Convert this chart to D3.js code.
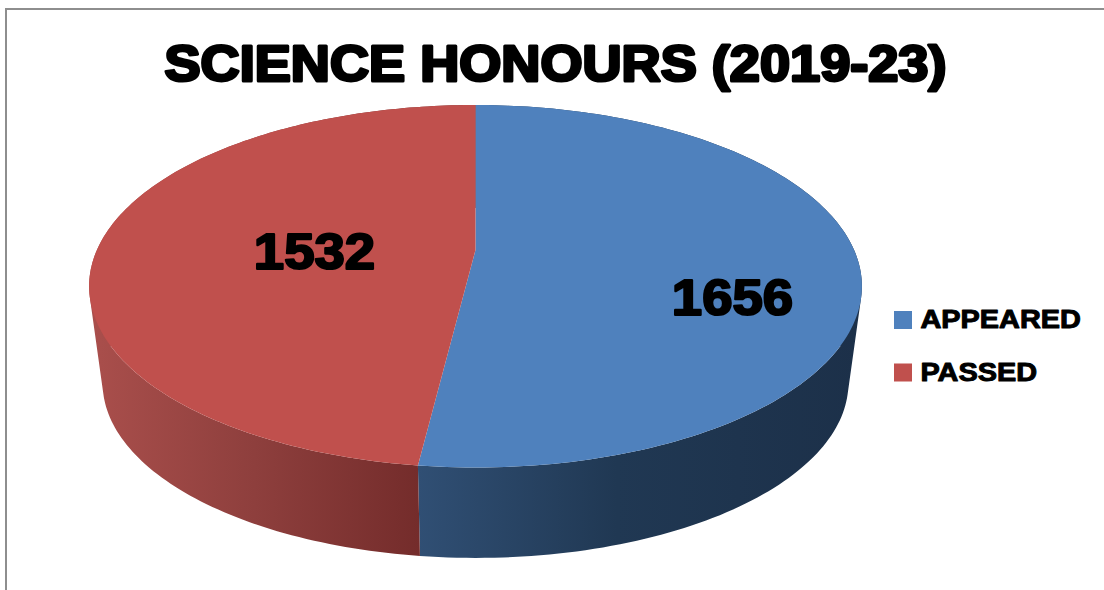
<!DOCTYPE html>
<html>
<head>
<meta charset="utf-8">
<script src="https://cdn.jsdelivr.net/npm/d3@7"></script>
<style>
  html, body { margin: 0; padding: 0; background: #fff; }
  svg { display: block; }
  text { font-family: "Liberation Sans", Arial, sans-serif; font-weight: bold; fill: #000; stroke: #000; stroke-linejoin: round; }
</style>
</head>
<body>
<svg id="chart" width="1104" height="590"></svg>
<script>
const categories = ['APPEARED', 'PASSED'];
const values = [1656, 1532];
const colors = ['#4f81bd', '#c0504d'];
const titleText = 'SCIENCE HONOURS (2019-23)';

const svg = d3.select('#chart');
const defs = svg.append('defs');

// frame, only top and left are in the picture
svg.append('line').attr('x1', 5).attr('y1', 9).attr('x2', 1104).attr('y2', 9)
  .attr('stroke', '#8e8e8e').attr('stroke-width', 2);
svg.append('line').attr('x1', 6).attr('y1', 8).attr('x2', 6).attr('y2', 590)
  .attr('stroke', '#8e8e8e').attr('stroke-width', 2);

// disk in perspective: far edge is foreshortened, so the pie centre sits above the ellipse centre
const cx = 475.5, cy = 250, a = 378.6, b = 174, k = 0.2;
const project = (t) => {
  const w = 1 + k * Math.cos(t);
  return [cx + a * Math.sin(t) / w, cy - b * Math.cos(t) / w];
};
// bottom rim is the same outline pulled towards a far vanishing point
const shrink = 0.965, vanishY = 3051;
const lower = (p) => [cx + shrink * (p[0] - cx), vanishY + shrink * (p[1] - vanishY)];

const pie = d3.pie().sort(null);
const slices = pie(values);
const rimAngles = (s) => d3.range(0, 161).map(i => s.startAngle + (s.endAngle - s.startAngle) * i / 160);
const line = d3.line();

// side walls first, one path of small quads so the silhouette keeps its straight sides
const wallStops = [
  [['0', '#304f74'], ['0.45', '#203853'], ['1', '#1c3049']],
  [['0', '#aa4f4c'], ['0.5', '#8e3f3d'], ['1', '#742c2b']]
];
const wallRange = [[418, 860], [89, 420]];
slices.forEach((s, i) => {
  const id = 'wall' + i;
  const g = defs.append('linearGradient').attr('id', id)
    .attr('gradientUnits', 'userSpaceOnUse')
    .attr('x1', wallRange[i][0]).attr('x2', wallRange[i][1])
    .attr('y1', 0).attr('y2', 0);
  wallStops[i].forEach(st => g.append('stop').attr('offset', st[0]).attr('stop-color', st[1]));
  const rim = rimAngles(s).map(project);
  // same winding for every quad, otherwise front and back quads cancel out when they overlap
  const d = rim.slice(1).map((p, j) => {
    const quad = [rim[j], p, lower(p), lower(rim[j])];
    return line(d3.polygonArea(quad) < 0 ? quad.reverse() : quad) + 'Z';
  }).join('');
  svg.append('path').attr('d', d).attr('fill', `url(#${id})`);
});

// top faces
slices.forEach((s, i) => {
  const pts = [[cx, cy]].concat(rimAngles(s).map(project));
  svg.append('path').attr('d', line(pts) + 'Z').attr('fill', colors[i]);
});

// Arial Black is not installed: widen the bold face to its width
const widen = (sel, factor) => sel.attr('textLength', sel.node().getComputedTextLength() * factor)
  .attr('lengthAdjust', 'spacingAndGlyphs');

// title
svg.append('text').attr('x', 555.5).attr('y', 81).attr('text-anchor', 'middle')
  .attr('font-size', 50).attr('stroke-width', 3)
  .attr('textLength', 782).attr('lengthAdjust', 'spacingAndGlyphs')
  .text(titleText);

// data labels
const labelPos = [[732.5, 315], [314.5, 269]];
values.forEach((v, i) => {
  svg.append('text').attr('x', labelPos[i][0]).attr('y', labelPos[i][1]).attr('text-anchor', 'middle')
    .attr('font-size', 50).attr('stroke-width', 2.2)
    .text(v)
    .call(widen, 1.09);
});

// legend
const legendY = d3.scalePoint().domain(categories).range([320, 372.5]);
categories.forEach((c, i) => {
  svg.append('rect').attr('x', 894).attr('y', legendY(c) - 9).attr('width', 18).attr('height', 18).attr('fill', colors[i]);
  svg.append('text').attr('x', 920.5).attr('y', legendY(c) + 8.3).attr('font-size', 26).attr('stroke-width', 1)
    .text(c)
    .call(widen, 1.11);
});
</script>
</body>
</html>
